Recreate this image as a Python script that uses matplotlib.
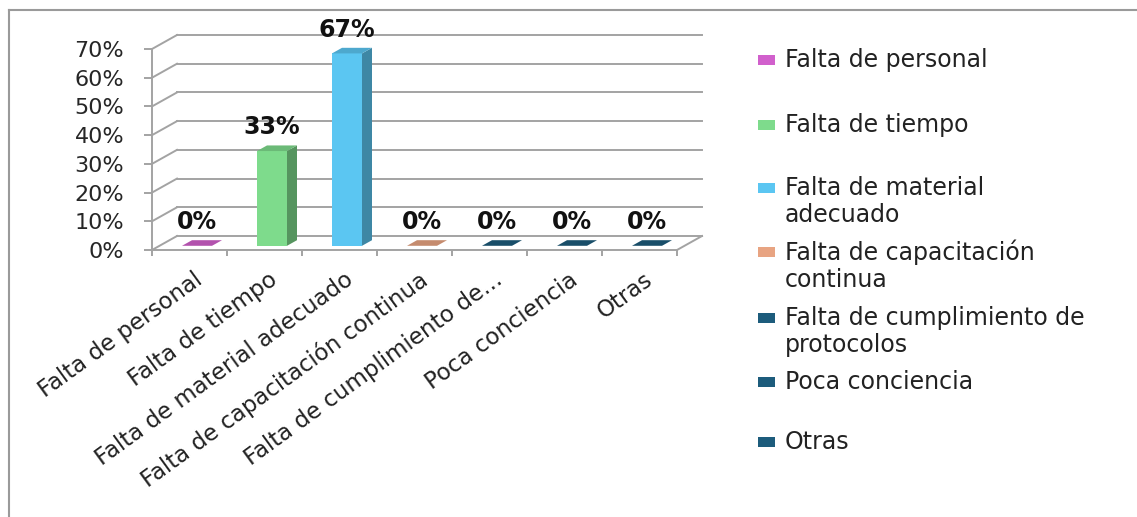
import textwrap
import matplotlib
matplotlib.use("Agg")
import matplotlib.pyplot as plt
from matplotlib.patches import Polygon, Rectangle
from matplotlib.lines import Line2D
from matplotlib.colors import to_rgb

# Datos de la encuesta: causas y porcentaje de respuestas
categorias = [
    "Falta de personal",
    "Falta de tiempo",
    "Falta de material adecuado",
    "Falta de capacitación continua",
    "Falta de cumplimiento de protocolos",
    "Poca conciencia",
    "Otras",
]
etiquetas_eje = [
    "Falta de personal",
    "Falta de tiempo",
    "Falta de material adecuado",
    "Falta de capacitación continua",
    "Falta de cumplimiento de...",
    "Poca conciencia",
    "Otras",
]
porcentajes = [0, 33, 67, 0, 0, 0, 0]
colores = ["#d160cc", "#7edb8c", "#5bc6f2", "#e8a482", "#1d5c7c", "#1d5c7c", "#1d5c7c"]
ticks_y = [0, 10, 20, 30, 40, 50, 60, 70]

W, H = 1137, 517
fig = plt.figure(figsize=(W / 100, H / 100), dpi=100)
fig.patch.set_facecolor("white")

# marco exterior (solo arriba e izquierda)
gris_marco = "#9a9a9a"
fig.add_artist(Line2D([9 / W, 1], [1 - 10 / H, 1 - 10 / H], color=gris_marco, lw=1.5))
fig.add_artist(Line2D([9 / W, 9 / W], [0, 1 - 10 / H], color=gris_marco, lw=1.5))

# ejes frontales del gráfico "3D"
ax = fig.add_axes([152 / W, (H - 250) / H, 525 / W, 201 / H])
ax.set_xlim(0, len(categorias))
ax.set_ylim(0, 70)
ax.patch.set_alpha(0)

# vector de profundidad (en unidades de datos)
DX = 25 / 75
DY = 14 / 201 * 70

gris = "#a3a3a3"
n = len(categorias)
for t in ticks_y:
    ax.plot([0, DX], [t, t + DY], color=gris, lw=1.4, clip_on=False, zorder=1)
    ax.plot([DX, n + DX], [t + DY, t + DY], color=gris, lw=1.4, clip_on=False, zorder=1)
ax.plot([n, n + DX], [0, DY], color=gris, lw=1.4, clip_on=False, zorder=1)

for lado in ["top", "right"]:
    ax.spines[lado].set_visible(False)
for lado in ["left", "bottom"]:
    ax.spines[lado].set_color(gris)
    ax.spines[lado].set_linewidth(1.4)

ax.set_yticks(ticks_y)
ax.set_yticklabels([f"{t}%" for t in ticks_y])
ax.tick_params(axis="y", length=6, width=1.4, color=gris, pad=14,
               labelsize=16, labelcolor="#262626")
ax.set_xticks(range(n + 1))
ax.set_xticklabels([])
ax.tick_params(axis="x", length=4, width=1.4, color=gris)


def sombra(c, f):
    r, g, b = to_rgb(c)
    return (r * f, g * f, b * f)


# barras con cara frontal, lateral y superior
f0 = 0.3      # posición de la cara frontal dentro del fondo
prof = 0.4    # profundidad de la barra
ancho = 0.4
for i, (v, c) in enumerate(zip(porcentajes, colores)):
    xc = i + 0.5 + f0 * DX
    x0 = xc - ancho / 2
    y0 = f0 * DY
    ax.bar(xc, v, width=ancho, bottom=y0, color=c, edgecolor="none",
           zorder=3, clip_on=False)
    lateral = [(x0 + ancho, y0), (x0 + ancho + prof * DX, y0 + prof * DY),
               (x0 + ancho + prof * DX, y0 + v + prof * DY), (x0 + ancho, y0 + v)]
    ax.add_patch(Polygon(lateral, closed=True, facecolor=sombra(c, 0.68),
                         edgecolor="none", zorder=3, clip_on=False))
    techo = [(x0, y0 + v), (x0 + ancho, y0 + v),
             (x0 + ancho + prof * DX, y0 + v + prof * DY), (x0 + prof * DX, y0 + v + prof * DY)]
    ax.add_patch(Polygon(techo, closed=True, facecolor=sombra(c, 0.85),
                         edgecolor="none", zorder=3, clip_on=False))
    ax.annotate(f"{v}%", xy=(xc, y0 + v), xytext=(0, 17), textcoords="offset points",
                ha="center", va="center", fontsize=17, fontweight="bold",
                color="#111111", annotation_clip=False, zorder=4)

# etiquetas de categoría giradas
for i, et in enumerate(etiquetas_eje):
    ax.annotate(et, xy=(i + 0.5, 0), xycoords=("data", "axes fraction"),
                xytext=(3, -13), textcoords="offset points",
                rotation=36, rotation_mode="anchor", ha="right", va="top",
                fontsize=16.5, color="#222222", annotation_clip=False)

# leyenda a la derecha
y_leyenda = [60, 125, 188, 252, 318, 382, 442]   # centro de la primera línea (px)
x_marca, x_texto = 758, 785
for nombre, c, yp in zip(categorias, colores, y_leyenda):
    lineas = textwrap.wrap(nombre, 24)
    fig.add_artist(Rectangle((x_marca / W, 1 - (yp + 5) / H), 17 / W, 10 / H,
                             transform=fig.transFigure, facecolor=c, edgecolor="none"))
    yc = yp + (len(lineas) - 1) * 27 / 2
    fig.text(x_texto / W, 1 - yc / H, "\n".join(lineas), ha="left", va="center",
             fontsize=17, color="#222222", linespacing=1.15)

fig.savefig("out.png", dpi=100, facecolor="white")
